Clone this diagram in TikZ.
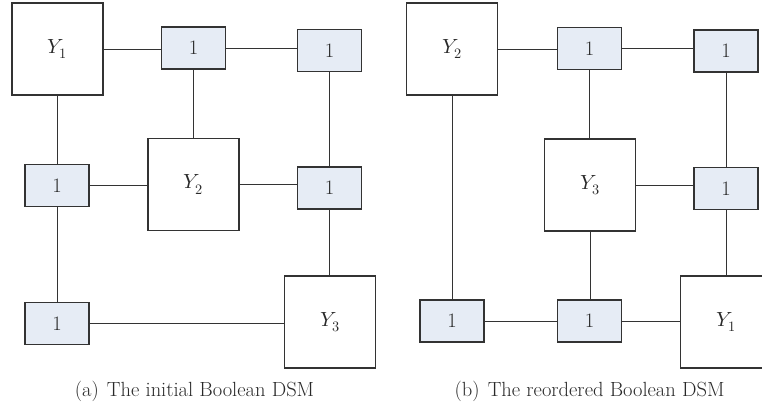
\documentclass[tikz,border=0pt]{standalone}
\usepackage{fontspec}
\usepackage{unicode-math}
\definecolor{cellfill}{HTML}{E6ECF5}
\definecolor{ink}{HTML}{333333}
\tikzset{
  varbox/.style={draw=ink, line width=1.2pt, fill=white, rectangle, inner sep=0pt,
                 minimum width=91pt, minimum height=92pt, text=ink!80!black,
                 font=\fontsize{20.5}{22}\selectfont},
  onebox/.style={draw=ink, line width=1.2pt, fill=cellfill, rectangle, inner sep=0pt,
                 minimum width=64pt, minimum height=42pt, text=ink!80!black,
                 font=\fontsize{20.5}{22}\selectfont},
  link/.style={draw=ink, line width=1pt},
  caption/.style={font=\fontsize{20.5}{22}\selectfont, text=ink!80!black,
                  anchor=base, inner sep=0pt}
}
\begin{document}
\begin{tikzpicture}[x=1pt, y=-1pt]
  \useasboundingbox (0,0) rectangle (762,413);
  \clip (0,0) rectangle (762,413);

  % (a) initial ordering
  \node[varbox] (aY1) at (57.5,49)  {$Y_1$};
  \node[onebox] (a12) at (193.5,48) {1};
  \node[onebox] (a13) at (329.5,50.5) {1};
  \node[onebox] (a21) at (57,185.5) {1};
  \node[varbox] (aY2) at (193.5,184.5) {$Y_2$};
  \node[onebox] (a23) at (329.5,188) {1};
  \node[onebox] (a31) at (57,323.5) {1};
  \node[varbox] (aY3) at (330,322) {$Y_3$};

  \draw[link] (aY1.east) -- (aY1.east -| a12.west);
  \draw[link] (a12.east) -- (a12.east -| a13.west);
  \draw[link] (a12.south) -- (a12.south |- aY2.north);
  \draw[link] (a13.south) -- (a13.south |- a23.north);
  \draw[link] (aY1.south) -- (aY1.south |- a21.north);
  \draw[link] (a21.east) -- (a21.east -| aY2.west);
  \draw[link] (aY2.east) -- (aY2.east -| a23.west);
  \draw[link] (a23.south) -- (a23.south |- aY3.north);
  \draw[link] (a21.south) -- (a21.south |- a31.north);
  \draw[link] (a31.east) -- (a31.east -| aY3.west);

  \node[caption] (capa) at (194.5,396) {(a)\hspace{0.4em}The initial Boolean DSM};

  % (b) reordered
  \node[varbox] (bY2) at (452,49)  {$Y_2$};
  \node[onebox] (b12) at (589.5,48.5) {1};
  \node[onebox] (b13) at (726,51) {1};
  \node[varbox] (bY3) at (590,185) {$Y_3$};
  \node[onebox] (b23) at (726,188.5) {1};
  \node[onebox] (b31) at (452,321) {1};
  \node[onebox] (b32) at (589.5,321) {1};
  \node[varbox] (bY1) at (726,322) {$Y_1$};

  \draw[link] (bY2.east) -- (bY2.east -| b12.west);
  \draw[link] (b12.east) -- (b12.east -| b13.west);
  \draw[link] (b12.south) -- (b12.south |- bY3.north);
  \draw[link] (b13.south) -- (b13.south |- b23.north);
  \draw[link] (bY3.east) -- (bY3.east -| b23.west);
  \draw[link] (bY2.south) -- (bY2.south |- b31.north);
  \draw[link] (b31.east) -- (b31.east -| b32.west);
  \draw[link] (bY3.south) -- (bY3.south |- b32.north);
  \draw[link] (b32.east) -- (b32.east -| bY1.west);
  \draw[link] (b23.south) -- (b23.south |- bY1.north);

  \node[caption] (capb) at (589.5,396) {(b)\hspace{0.4em}The reordered Boolean DSM};
\end{tikzpicture}
\end{document}
